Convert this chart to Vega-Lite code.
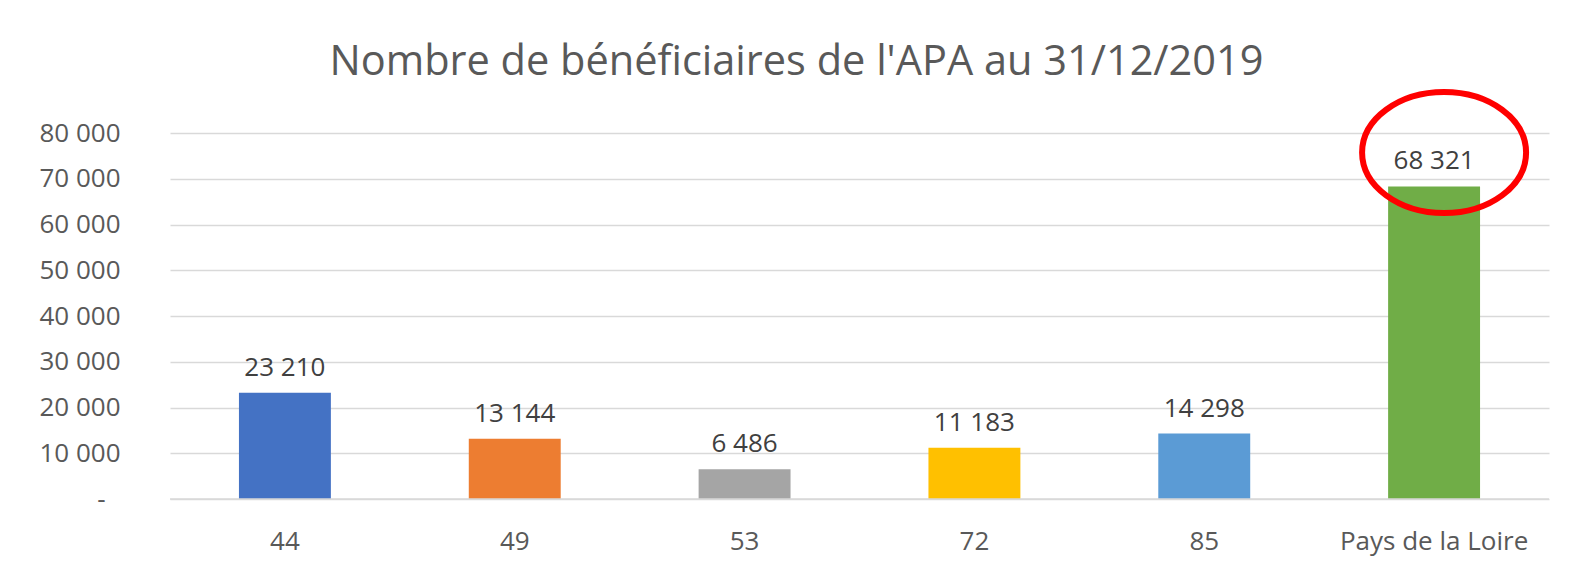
{
  "$schema": "https://vega.github.io/schema/vega-lite/v6.json",
  "width": 1379,
  "height": 366,
  "autosize": {"type": "none"},
  "padding": {"left": 170, "top": 133, "right": 24, "bottom": 74},
  "background": "white",
  "title": {
    "text": "Nombre de bénéficiaires de l'APA au 31/12/2019",
    "fontSize": 41.5,
    "fontWeight": "normal",
    "color": "#595959",
    "anchor": "middle",
    "dx": -63,
    "offset": -3
  },
  "data": {
    "values": [
      {"dep": "44", "n": 23210},
      {"dep": "49", "n": 13144},
      {"dep": "53", "n": 6486},
      {"dep": "72", "n": 11183},
      {"dep": "85", "n": 14298},
      {"dep": "Pays de la Loire", "n": 68321}
    ]
  },
  "layer": [
    {
      "mark": {"type": "bar"},
      "encoding": {
        "x": {"field": "dep", "type": "nominal", "sort": null, "title": null,
              "scale": {"paddingInner": 0.6, "paddingOuter": 0.3}},
        "y": {"field": "n", "type": "quantitative", "title": null,
              "scale": {"domain": [0, 80000]}},
        "color": {
          "field": "dep", "type": "nominal", "legend": null,
          "scale": {
            "domain": ["44", "49", "53", "72", "85", "Pays de la Loire"],
            "range": ["#4472C4", "#ED7D31", "#A5A5A5", "#FFC000", "#5B9BD5", "#70AD47"]
          }
        }
      }
    },
    {
      "data": {"values": [{"v": 0}]},
      "mark": {"type": "rule", "color": "#D9D9D9", "strokeWidth": 1.5},
      "encoding": {
        "y": {"field": "v", "type": "quantitative", "title": null}
      }
    },
    {
      "mark": {"type": "text", "baseline": "alphabetic", "dy": -17, "fontSize": 26, "color": "#404040"},
      "encoding": {
        "x": {"field": "dep", "type": "nominal", "sort": null, "title": null},
        "y": {"field": "n", "type": "quantitative", "title": null},
        "text": {"field": "n", "type": "quantitative", "format": ","}
      }
    },
    {
      "transform": [{"filter": "datum.dep === 'Pays de la Loire'"}],
      "mark": {
        "type": "point",
        "filled": false,
        "stroke": "#FF0000",
        "strokeWidth": 6,
        "opacity": 1,
        "size": 26896,
        "shape": "M 1.122 -0.413 C 1.122 -0.005 0.674 0.325 0.122 0.325 C -0.430 0.325 -0.878 -0.005 -0.878 -0.413 C -0.878 -0.821 -0.430 -1.151 0.122 -1.151 C 0.674 -1.151 1.122 -0.821 1.122 -0.413 Z"
      },
      "encoding": {
        "x": {"field": "dep", "type": "nominal", "sort": null, "title": null},
        "y": {"field": "n", "type": "quantitative", "title": null}
      }
    }
  ],
  "config": {
    "font": "Open Sans",
    "locale": {
      "number": {"decimal": ",", "thousands": " ", "grouping": [3], "currency": ["", " €"]}
    },
    "view": {"stroke": null},
    "axisX": {
      "domain": false,
      "ticks": false,
      "grid": false,
      "labelAngle": 0,
      "labelFontSize": 26,
      "labelColor": "#595959",
      "labelPadding": 29,
      "labelLimit": 0
    },
    "axisY": {
      "domain": false,
      "ticks": false,
      "grid": true,
      "gridColor": "#D9D9D9",
      "gridWidth": 1.5,
      "values": [0, 10000, 20000, 30000, 40000, 50000, 60000, 70000, 80000],
      "labelExpr": "datum.value === 0 ? '-\u2007\u200b' : format(datum.value, ',')",
      "labelFontSize": 26,
      "labelColor": "#595959",
      "labelPadding": 50
    }
  }
}
